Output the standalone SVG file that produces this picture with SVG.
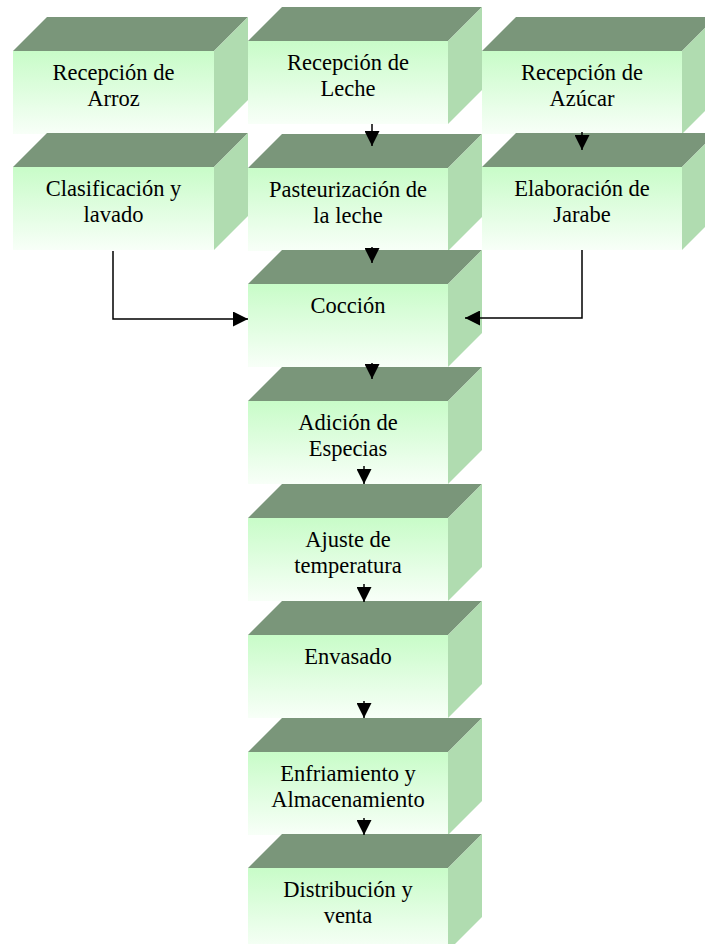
<svg xmlns="http://www.w3.org/2000/svg" width="705" height="944" viewBox="0 0 705 944">
<defs>
<linearGradient id="front" x1="0" y1="0" x2="0" y2="1">
<stop offset="0" stop-color="#c8fcc8"/>
<stop offset="1" stop-color="#f8fff8"/>
</linearGradient>
<marker id="ah" markerUnits="userSpaceOnUse" markerWidth="15" markerHeight="15" refX="15" refY="7.5" orient="auto" viewBox="0 0 15 15">
<path d="M0,0 L15,7.5 L0,15 Z" fill="#000"/>
</marker>
<style>
.top{fill:#7a967a}
.side{fill:#b0dcb0}
.front{fill:url(#front)}
.lbl{font-size:22.5px;fill:#000;text-anchor:middle}
.con{fill:none;stroke:#000;stroke-width:1.5;marker-end:url(#ah)}
</style>
</defs>
<rect width="705" height="944" fill="#fff"/>
<g id="nodes" font-family="'Liberation Serif', 'Times New Roman', 'DejaVu Serif', serif">
<g id="n-arroz" transform="translate(13,51)">
<path class="top" d="M0,0 L34,-34 L235,-34 L201,0 Z"/><path class="side" d="M201,0 L235,-34 L235,49 L201,83 Z"/><rect class="front" width="201" height="83"/>
<text class="lbl" x="100.5" y="29">Recepción de</text><text class="lbl" x="100.5" y="55">Arroz</text>
</g>
<g id="n-clasificacion" transform="translate(13,167)">
<path class="top" d="M0,0 L34,-34 L235,-34 L201,0 Z"/><path class="side" d="M201,0 L235,-34 L235,49 L201,83 Z"/><rect class="front" width="201" height="83"/>
<text class="lbl" x="100.5" y="29">Clasificación y</text><text class="lbl" x="100.5" y="55">lavado</text>
</g>
<g id="n-leche" transform="translate(248,41)">
<path class="top" d="M0,0 L34,-34 L234,-34 L200,0 Z"/><path class="side" d="M200,0 L234,-34 L234,49 L200,83 Z"/><rect class="front" width="200" height="83"/>
<text class="lbl" x="100" y="29">Recepción de</text><text class="lbl" x="100" y="55">Leche</text>
</g>
<g id="n-pasteurizacion" transform="translate(248,168)">
<path class="top" d="M0,0 L34,-34 L234,-34 L200,0 Z"/><path class="side" d="M200,0 L234,-34 L234,49 L200,83 Z"/><rect class="front" width="200" height="83"/>
<text class="lbl" x="100" y="29">Pasteurización de</text><text class="lbl" x="100" y="55">la leche</text>
</g>
<g id="n-azucar" transform="translate(482,51)">
<path class="top" d="M0,0 L34,-34 L234,-34 L200,0 Z"/><path class="side" d="M200,0 L234,-34 L234,49 L200,83 Z"/><rect class="front" width="200" height="83"/>
<text class="lbl" x="100" y="29">Recepción de</text><text class="lbl" x="100" y="55">Azúcar</text>
</g>
<g id="n-jarabe" transform="translate(482,167)">
<path class="top" d="M0,0 L34,-34 L234,-34 L200,0 Z"/><path class="side" d="M200,0 L234,-34 L234,49 L200,83 Z"/><rect class="front" width="200" height="83"/>
<text class="lbl" x="100" y="29">Elaboración de</text><text class="lbl" x="100" y="55">Jarabe</text>
</g>
<g id="n-coccion" transform="translate(248,284)">
<path class="top" d="M0,0 L34,-34 L234,-34 L200,0 Z"/><path class="side" d="M200,0 L234,-34 L234,49 L200,83 Z"/><rect class="front" width="200" height="83"/>
<text class="lbl" x="100" y="29">Cocción</text>
</g>
<g id="n-especias" transform="translate(248,401)">
<path class="top" d="M0,0 L34,-34 L234,-34 L200,0 Z"/><path class="side" d="M200,0 L234,-34 L234,49 L200,83 Z"/><rect class="front" width="200" height="83"/>
<text class="lbl" x="100" y="29">Adición de</text><text class="lbl" x="100" y="55">Especias</text>
</g>
<g id="n-ajuste" transform="translate(248,518)">
<path class="top" d="M0,0 L34,-34 L234,-34 L200,0 Z"/><path class="side" d="M200,0 L234,-34 L234,49 L200,83 Z"/><rect class="front" width="200" height="83"/>
<text class="lbl" x="100" y="29">Ajuste de</text><text class="lbl" x="100" y="55">temperatura</text>
</g>
<g id="n-envasado" transform="translate(248,635)">
<path class="top" d="M0,0 L34,-34 L234,-34 L200,0 Z"/><path class="side" d="M200,0 L234,-34 L234,49 L200,83 Z"/><rect class="front" width="200" height="83"/>
<text class="lbl" x="100" y="29">Envasado</text>
</g>
<g id="n-enfriamiento" transform="translate(248,752)">
<path class="top" d="M0,0 L34,-34 L234,-34 L200,0 Z"/><path class="side" d="M200,0 L234,-34 L234,49 L200,83 Z"/><rect class="front" width="200" height="83"/>
<text class="lbl" x="100" y="29">Enfriamiento y</text><text class="lbl" x="100" y="55">Almacenamiento</text>
</g>
<g id="n-distribucion" transform="translate(248,868)">
<path class="top" d="M0,0 L34,-34 L234,-34 L200,0 Z"/><path class="side" d="M200,0 L234,-34 L234,49 L200,83 Z"/><rect class="front" width="200" height="83"/>
<text class="lbl" x="100" y="29">Distribución y</text><text class="lbl" x="100" y="55">venta</text>
</g>
</g>
<g id="connectors">
<path class="con" d="M372,124 V146"/>
<path class="con" d="M372,247 V263"/>
<path class="con" d="M372,363 V379"/>
<path class="con" d="M364,466 V484"/>
<path class="con" d="M364,584 V602"/>
<path class="con" d="M364,701 V718"/>
<path class="con" d="M364,818 V835"/>
<path class="con" d="M582,132 V150"/>
<path class="con" d="M113,251 V319 H248"/>
<path class="con" d="M582,250 V318 H465"/>
</g>
</svg>
